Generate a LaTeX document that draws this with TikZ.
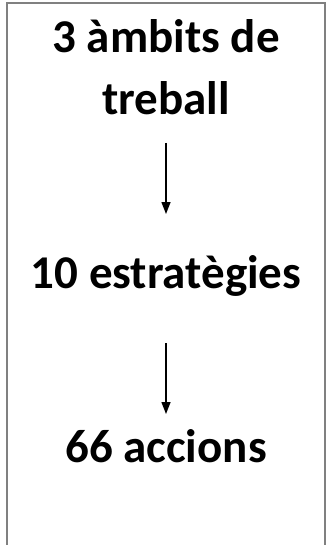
\documentclass[tikz,border=0pt]{standalone}
\usepackage{fontspec}
\setmainfont{Carlito}
\usetikzlibrary{arrows.meta}

\begin{document}
\begin{tikzpicture}[x=1pt,y=-1pt]
\tikzset{
  level/.style={font=\bfseries\fontsize{47}{62}\selectfont, align=center, inner sep=0pt, anchor=base},
  step arrow/.style={-{Triangle[length=12pt,width=9pt]}, line width=1.4pt}
}
\useasboundingbox (0,0) rectangle (330,545);
\draw [gray, line width=2pt] (7,545) -- (7,3) -- (325,3) -- (325,545);
\node [level] (ambits) at (166,53) {3 àmbits de};
\node [level] (treball) at (166,115) {treball};
\node [level] (estrategies) at (166,288) {10 estratègies};
\node [level] (accions) at (166,462) {66 accions};
\coordinate (a1) at (166,143);
\coordinate (b1) at (166,214);
\coordinate (a2) at (166,343);
\coordinate (b2) at (166,414);
\draw [step arrow] (a1) -- (b1);
\draw [step arrow] (a2) -- (b2);
\end{tikzpicture}
\end{document}
